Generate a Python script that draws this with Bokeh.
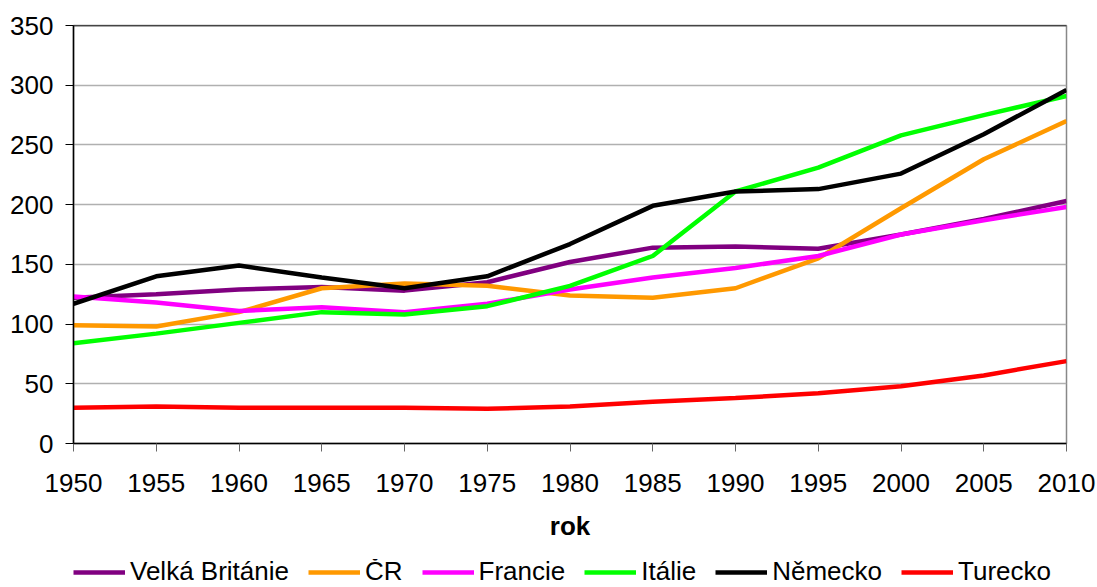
from bokeh.plotting import figure
from bokeh.layouts import column
from bokeh.models import Legend, LegendItem, Span, FixedTicker, Range1d
from bokeh.embed import file_html
from bokeh.resources import INLINE

years = [1950, 1955, 1960, 1965, 1970, 1975, 1980, 1985, 1990, 1995, 2000, 2005, 2010]
velka_britanie = [122, 125, 129, 131, 128, 135, 152, 164, 165, 163, 175, 188, 203]
cr = [99, 98, 110, 130, 134, 132, 124, 122, 130, 155, 197, 238, 270]
francie = [123, 118, 111, 114, 110, 117, 129, 139, 147, 157, 175, 187, 198]
italie = [84, 92, 101, 110, 108, 115, 132, 157, 211, 231, 258, 275, 291]
nemecko = [117, 140, 149, 139, 130, 140, 167, 199, 211, 213, 226, 259, 296]
turecko = [30, 31, 30, 30, 30, 29, 31, 35, 38, 42, 48, 57, 69]

series_names = ["Velká Británie", "ČR", "Francie", "Itálie", "Německo", "Turecko"]
series_values = [velka_britanie, cr, francie, italie, nemecko, turecko]
series_colors = ["#800080", "#FF9900", "#FF00FF", "#00FF00", "#000000", "#FF0000"]

y_ticks = [0, 50, 100, 150, 200, 250, 300, 350]
x_label = "rok"

FONT = "Liberation Sans"

p = figure(width=1097, height=559, output_backend="svg", toolbar_location=None,
           x_range=Range1d(years[0], years[-1]), y_range=Range1d(y_ticks[0], y_ticks[-1]),
           min_border_left=73, min_border_right=31, min_border_top=25, min_border_bottom=116)
p.background_fill_color = "white"
p.border_fill_color = "white"
p.outline_line_color = "#888888"
p.outline_line_width = 1.5

for vals, col in zip(series_values, series_colors):
    p.line(years, vals, line_color=col, line_width=4.5)

p.xaxis.ticker = FixedTicker(ticks=years)
p.yaxis.ticker = FixedTicker(ticks=y_ticks)
p.xgrid.grid_line_color = None
p.ygrid.grid_line_color = "#b0b0b0"
p.ygrid.grid_line_width = 1.5

top_line = Span(location=y_ticks[-1], dimension="width", line_color="black", line_width=1.5)
p.add_layout(top_line)

for ax in (p.xaxis[0], p.yaxis[0]):
    ax.major_label_text_font = FONT
    ax.major_label_text_font_size = "26px"
    ax.major_label_text_color = "black"
    ax.axis_line_color = "black"
    ax.axis_line_width = 1.5
    ax.major_tick_in = 0
    ax.major_tick_out = 8
    ax.minor_tick_line_color = None

p.yaxis.major_tick_line_color = "black"
p.yaxis.major_label_standoff = 12
p.xaxis.major_tick_line_color = "#666666"
p.xaxis.major_label_standoff = 22
p.xaxis.axis_label = x_label
p.xaxis.axis_label_text_font = FONT
p.xaxis.axis_label_text_font_size = "26px"
p.xaxis.axis_label_text_font_style = "bold"
p.xaxis.axis_label_text_color = "black"
p.xaxis.axis_label_standoff = 16

# legend strip below the chart (its series lie outside its view range)
lg = figure(width=1097, height=28, output_backend="svg", toolbar_location=None,
            x_axis_type=None, y_axis_type=None,
            x_range=Range1d(years[0], years[-1]), y_range=Range1d(-20, -10),
            min_border_left=0, min_border_right=0, min_border_top=0, min_border_bottom=0)
lg.outline_line_color = None
lg.xgrid.grid_line_color = None
lg.ygrid.grid_line_color = None
lg.background_fill_color = "white"
lg.border_fill_color = "white"

items = []
for name, vals, col in zip(series_names, series_values, series_colors):
    r = lg.line(years, vals, line_color=col, line_width=4.5)
    items.append(LegendItem(label=name, renderers=[r]))

legend = Legend(items=items, orientation="horizontal", location=(0, 0),
                glyph_width=52, glyph_height=28, label_height=28, label_standoff=5,
                spacing=19, padding=0, margin=0,
                label_text_font=FONT, label_text_font_size="26px",
                label_text_color="black",
                border_line_color=None, background_fill_alpha=0)
lg.add_layout(legend, "center")

layout = column(p, lg, spacing=0)

open("out.html", "w").write(file_html(layout, INLINE))
